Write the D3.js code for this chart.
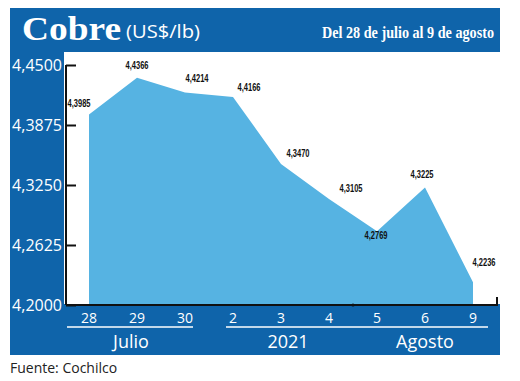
<!DOCTYPE html>
<html><head><meta charset="utf-8">
<script src="https://cdn.jsdelivr.net/npm/d3@7"></script>
<style>body{margin:0;background:#fff}svg{display:block}</style>
</head><body><svg id="c" width="520" height="381"></svg>
<script>
const days = ["28","29","30","2","3","4","5","6","9"];
const prices = [4.3985,4.4366,4.4214,4.4166,4.3470,4.3105,4.2769,4.3225,4.2236];
const yTicks = [4.2000,4.2625,4.3250,4.3875,4.4500];
const groups = [{name:"Julio",from:0,to:2},{name:"2021",from:3,to:8}];
const monthLabels = [{name:"Julio",at:1},{name:"2021",at:4},{name:"Agosto",at:7}];
const labelNudge = [[-10,-7],[0,-9],[12,-10],[16,-6],[17,-7],[22,-7],[-1,8],[-3,-9],[11,-16]];

const BLUE="#0f64aa", AREA="#56b3e2";
const svg=d3.select("#c");
const fmt=v=>v.toFixed(4).replace(".",",");

// frame
svg.append("rect").attr("x",10).attr("y",8).attr("width",490).attr("height",44).attr("fill",BLUE);
svg.append("rect").attr("x",10).attr("y",52).attr("width",54).attr("height",303).attr("fill",BLUE);
svg.append("rect").attr("x",10).attr("y",304).attr("width",490).attr("height",51).attr("fill",BLUE);

// titles
svg.append("text").attr("x",22).attr("y",40).attr("fill","#fff")
  .attr("font-family","Liberation Serif").attr("font-weight","bold").attr("font-size",34)
  .attr("textLength",99).attr("lengthAdjust","spacingAndGlyphs").text("Cobre");
svg.append("text").attr("x",126).attr("y",38).attr("fill","#fff")
  .attr("font-family","Open Sans").attr("font-size",18)
  .attr("textLength",74).attr("lengthAdjust","spacingAndGlyphs").text("(US$/lb)");
svg.append("text").attr("transform","translate(322,38) scale(1,1.13)").attr("fill","#fff")
  .attr("font-family","Liberation Serif").attr("font-weight","bold").attr("font-size",15)
  .attr("textLength",172).attr("lengthAdjust","spacingAndGlyphs").text("Del 28 de julio al 9 de agosto");

// scales
const x=d3.scalePoint().domain(d3.range(days.length)).range([89,473]);
const y=d3.scaleLinear().domain([4.2,4.45]).range([305,65]);

// area
const area=d3.area().x((d,i)=>x(i)).y0(y(4.2)).y1(d=>y(d));
svg.append("path").datum(prices).attr("d",area).attr("fill",AREA);

// y axis
const ya=svg.append("g").attr("transform","translate(66,0)")
  .call(d3.axisRight(y).tickValues(yTicks).tickSize(10).tickFormat(""));
ya.select(".domain").attr("stroke","#111").attr("stroke-width",2).attr("d","M0,65V305");
ya.selectAll(".tick line").attr("stroke","#111").attr("stroke-width",2);
svg.append("g").selectAll("text").data(yTicks).join("text")
  .attr("x",62).attr("y",d=>y(d)+5.5).attr("text-anchor","end").attr("fill","#fff")
  .attr("font-family","Open Sans").attr("font-size",16).text(fmt);

// bottom axis line
svg.append("path").attr("d","M66,305H497V297").attr("fill","none").attr("stroke","#111").attr("stroke-width",2);
svg.append("circle").attr("cx",(x(5)+x(6))/2).attr("cy",305).attr("r",1.6).attr("fill","#111");

// day labels
svg.append("g").selectAll("text").data(days).join("text")
  .attr("x",(d,i)=>x(i)).attr("y",323).attr("text-anchor","middle").attr("fill","#fff")
  .attr("font-family","Open Sans").attr("font-size",14).text(d=>d);
// group underlines
svg.append("g").selectAll("line").data(groups).join("line")
  .attr("x1",d=>d.from===0?67:x(d.from)-7).attr("x2",d=>d.to===days.length-1?488:x(d.to)+8)
  .attr("y1",327).attr("y2",327).attr("stroke","#fff").attr("stroke-width",1.3);
svg.append("g").selectAll("text").data(monthLabels).join("text")
  .attr("x",d=>x(d.at)-(d.at===1?6:0)+(d.at===4?7:0)).attr("y",348).attr("text-anchor","middle").attr("fill","#fff")
  .attr("font-family","Open Sans").attr("font-size",18).text(d=>d.name);

// data labels
svg.append("g").selectAll("text").data(prices).join("text")
  .attr("x",(d,i)=>x(i)+labelNudge[i][0]).attr("y",(d,i)=>y(d)+labelNudge[i][1])
  .attr("text-anchor","middle").attr("fill","#111")
  .attr("font-family","Liberation Sans Narrow, Liberation Sans").attr("font-weight","bold").attr("font-size",11)
  .attr("textLength",23).attr("lengthAdjust","spacingAndGlyphs").text(fmt);

// source
svg.append("text").attr("x",10).attr("y",373).attr("fill","#222")
  .attr("font-family","Open Sans").attr("font-size",14).text("Fuente: Cochilco");
</script></body></html>
